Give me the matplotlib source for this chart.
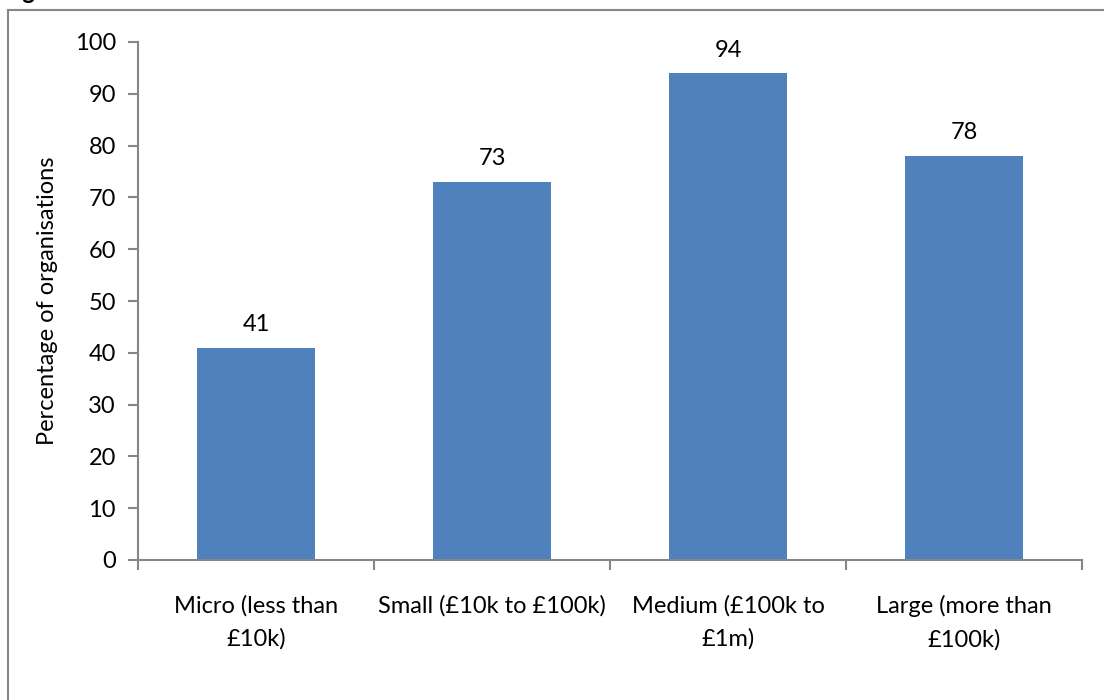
import matplotlib
matplotlib.use("Agg")
import matplotlib.pyplot as plt
from matplotlib.lines import Line2D

# data
categories = ["Micro (less than\n£10k)", "Small (£10k to £100k)",
              "Medium (£100k to\n£1m)", "Large (more than\n£100k)"]
values = [41, 73, 94, 78]
title_text = "organisation's income"
y_label = "Percentage of organisations"

plt.rcParams['font.family'] = ['Lato', 'DejaVu Sans']
grey = '#868686'
fs = 17

fig = plt.figure(figsize=(11.04, 7.0), dpi=100)
ax = fig.add_axes([138/1104, 140/700, (1082-138)/1104, (560-42)/700])

x = list(range(len(values)))
ax.bar(x, values, width=0.5, color='#4F81BD', zorder=2)
for xi, v in zip(x, values):
    ax.annotate(str(v), (xi, v), xytext=(0, 9), textcoords='offset points',
                ha='center', va='bottom', fontsize=fs)

ax.set_xlim(-0.5, len(values) - 0.5)
ax.set_ylim(0, 100)
ax.set_yticks(range(0, 101, 10))
ax.set_xticks(x)
ax.set_xticklabels(categories, fontsize=fs, linespacing=1.7)
ax.set_xticks([i - 0.5 for i in range(len(values) + 1)], minor=True)
ax.tick_params(axis='x', which='major', length=0, pad=25)
ax.tick_params(axis='x', which='minor', length=7, color=grey, width=1.5, direction='out')
ax.tick_params(axis='y', length=7, color=grey, width=1.5, labelsize=fs, pad=9)
ax.set_ylabel(y_label, fontsize=fs, labelpad=12)

for side in ('top', 'right'):
    ax.spines[side].set_visible(False)
for side in ('left', 'bottom'):
    ax.spines[side].set_color(grey)
    ax.spines[side].set_linewidth(1.5)

# chart area border (only top and left edges are inside the crop)
fig.add_artist(Line2D([8/1104, 8/1104], [0, 1 - 10/700], color=grey, lw=1.5))
fig.add_artist(Line2D([8/1104, 1], [1 - 10/700, 1 - 10/700], color=grey, lw=1.5))

# title sits above the crop, only its lowest strokes show
fig.text(0.0, 1 + 1/700, title_text, fontsize=17, fontweight='bold', va='baseline')

fig.savefig("out.png", dpi=100)
